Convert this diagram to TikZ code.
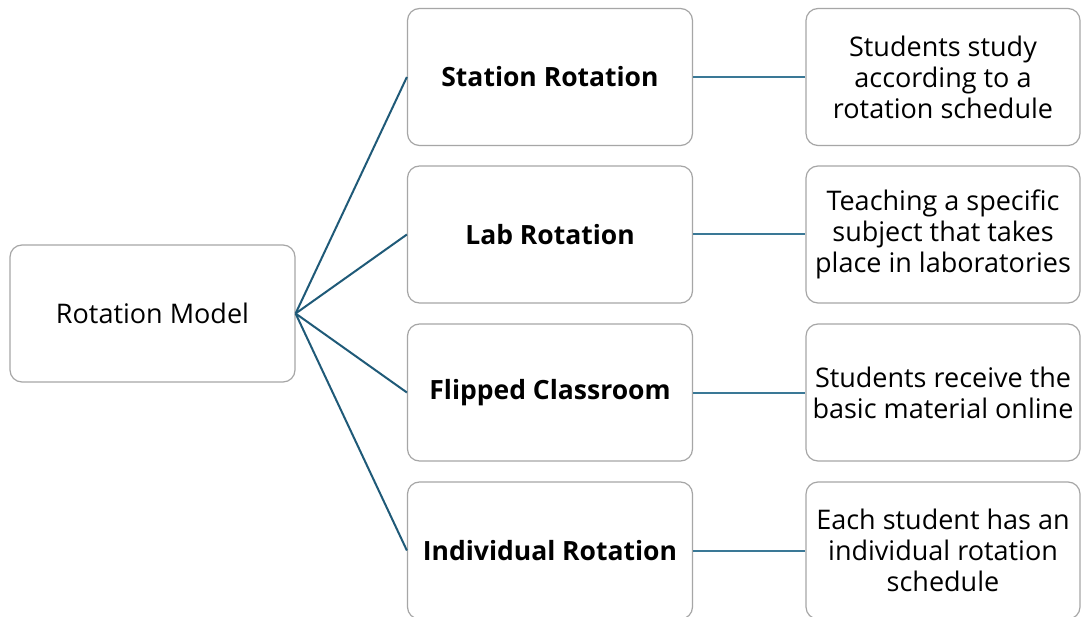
\documentclass[tikz,border=0pt]{standalone}
\usepackage{fontspec}
\setmainfont{Open Sans}
\definecolor{boxline}{HTML}{A6A6A6}
\definecolor{conn}{HTML}{1F5A78}
\definecolor{conn2}{HTML}{3A7896}
\begin{document}
\begin{tikzpicture}[x=1pt,y=-1pt,
  box/.style={draw=boxline, line width=1.2pt, rounded corners=12pt, fill=white,
    minimum width=285pt, minimum height=137pt, align=center, inner sep=0pt},
  rbox/.style={box, minimum width=274pt, font=\fontsize{27}{31}\selectfont},
  mbox/.style={box, font=\fontsize{26.5}{30}\selectfont\bfseries},
  link/.style={draw=conn, line width=2pt},
  link2/.style={draw=conn2, line width=2pt}]
\useasboundingbox (0,0) rectangle (1081,617);
\fill[white] (0,0) rectangle (1081,617);
\node[box, font=\fontsize{27}{30}\selectfont] (root) at (152.5,313.5) {Rotation Model};
\node[mbox] (m1) at (550,77) {Station Rotation};
\node[mbox] (m2) at (550,234.5) {Lab Rotation};
\node[mbox] (m3) at (550,392.5) {Flipped Classroom};
\node[mbox] (m4) at (550,550.5) {Individual Rotation};
\node[rbox] (r1) at (943,77) {Students study\\according to a\\rotation schedule};
\node[rbox] (r2) at (943,234.5) {Teaching a specific\\subject that takes\\place in laboratories};
\node[rbox] (r3) at (943,392.5) {Students receive the\\basic material online};
\node[rbox] (r4) at (943,550.5) {Each student has an\\individual rotation\\schedule};
\foreach \i in {1,...,4}{
  \draw[link] (root.east) -- (m\i.west);
  \draw[link2] (m\i.east) -- (r\i.west);
}
\end{tikzpicture}
\end{document}
